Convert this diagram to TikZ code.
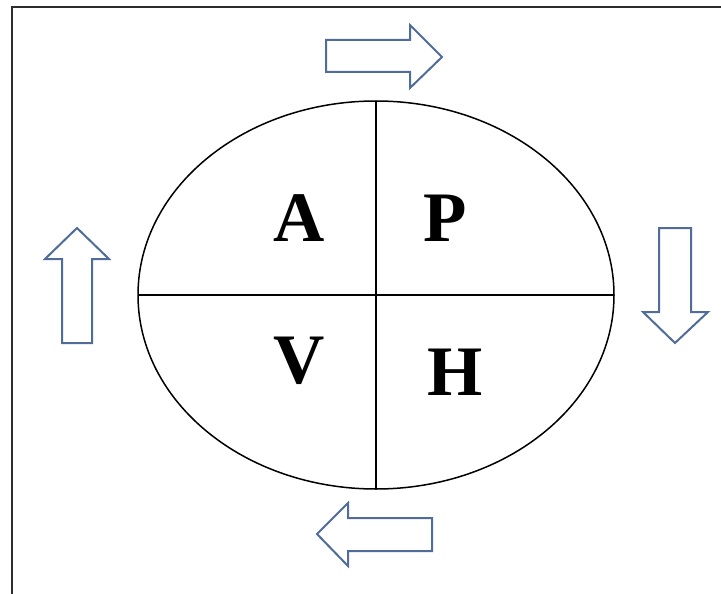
\documentclass[tikz,border=0pt]{standalone}
\usepackage{fontspec}
\setmainfont{Liberation Serif}
\definecolor{arrowblue}{RGB}{80,108,152}
\definecolor{framegray}{RGB}{45,45,45}
\tikzset{
  blockarrow/.style={draw=arrowblue, line width=2pt, fill=white, line join=miter},
  quadlabel/.style={font=\fontsize{71}{71}\selectfont\bfseries, inner sep=0pt, anchor=center},
  divider/.style={draw=black, line width=1.5pt}
}
\begin{document}
\begin{tikzpicture}[x=1pt, y=-1pt]
  \useasboundingbox (0,0) rectangle (721,594);
  % frame (left and top edges)
  \draw[framegray, line width=2.6pt] (12,594) -- (12,7) -- (721,7);

  % circle of four quadrants
  \coordinate (c) at (376,295);
  \draw[divider] (c) ellipse [x radius=238, y radius=194];
  \coordinate (n) at (376,101);
  \coordinate (s) at (376,489);
  \coordinate (w) at (138,295);
  \coordinate (e) at (614,295);
  \draw[divider] (n) -- (s);
  \draw[divider] (w) -- (e);

  \node[quadlabel] (A) at (299,218) {A};
  \node[quadlabel] (P) at (445.5,218) {P};
  \node[quadlabel] (V) at (299,361) {V};
  \node[quadlabel] (H) at (455,372) {H};

  % block arrows circling clockwise
  \draw[blockarrow] (326,40) -- (410,40) -- (410,25) -- (442,57) -- (410,88) -- (410,72) -- (326,72) -- cycle;
  \draw[blockarrow] (659,228) -- (691,228) -- (691,312) -- (708,312) -- (675,343) -- (643,312) -- (659,312) -- cycle;
  \draw[blockarrow] (432,518) -- (348,518) -- (348,503) -- (317,534) -- (348,566) -- (348,551) -- (432,551) -- cycle;
  \draw[blockarrow] (62,343) -- (62,259) -- (45,259) -- (77,228) -- (109,259) -- (92,259) -- (92,343) -- cycle;
\end{tikzpicture}
\end{document}
